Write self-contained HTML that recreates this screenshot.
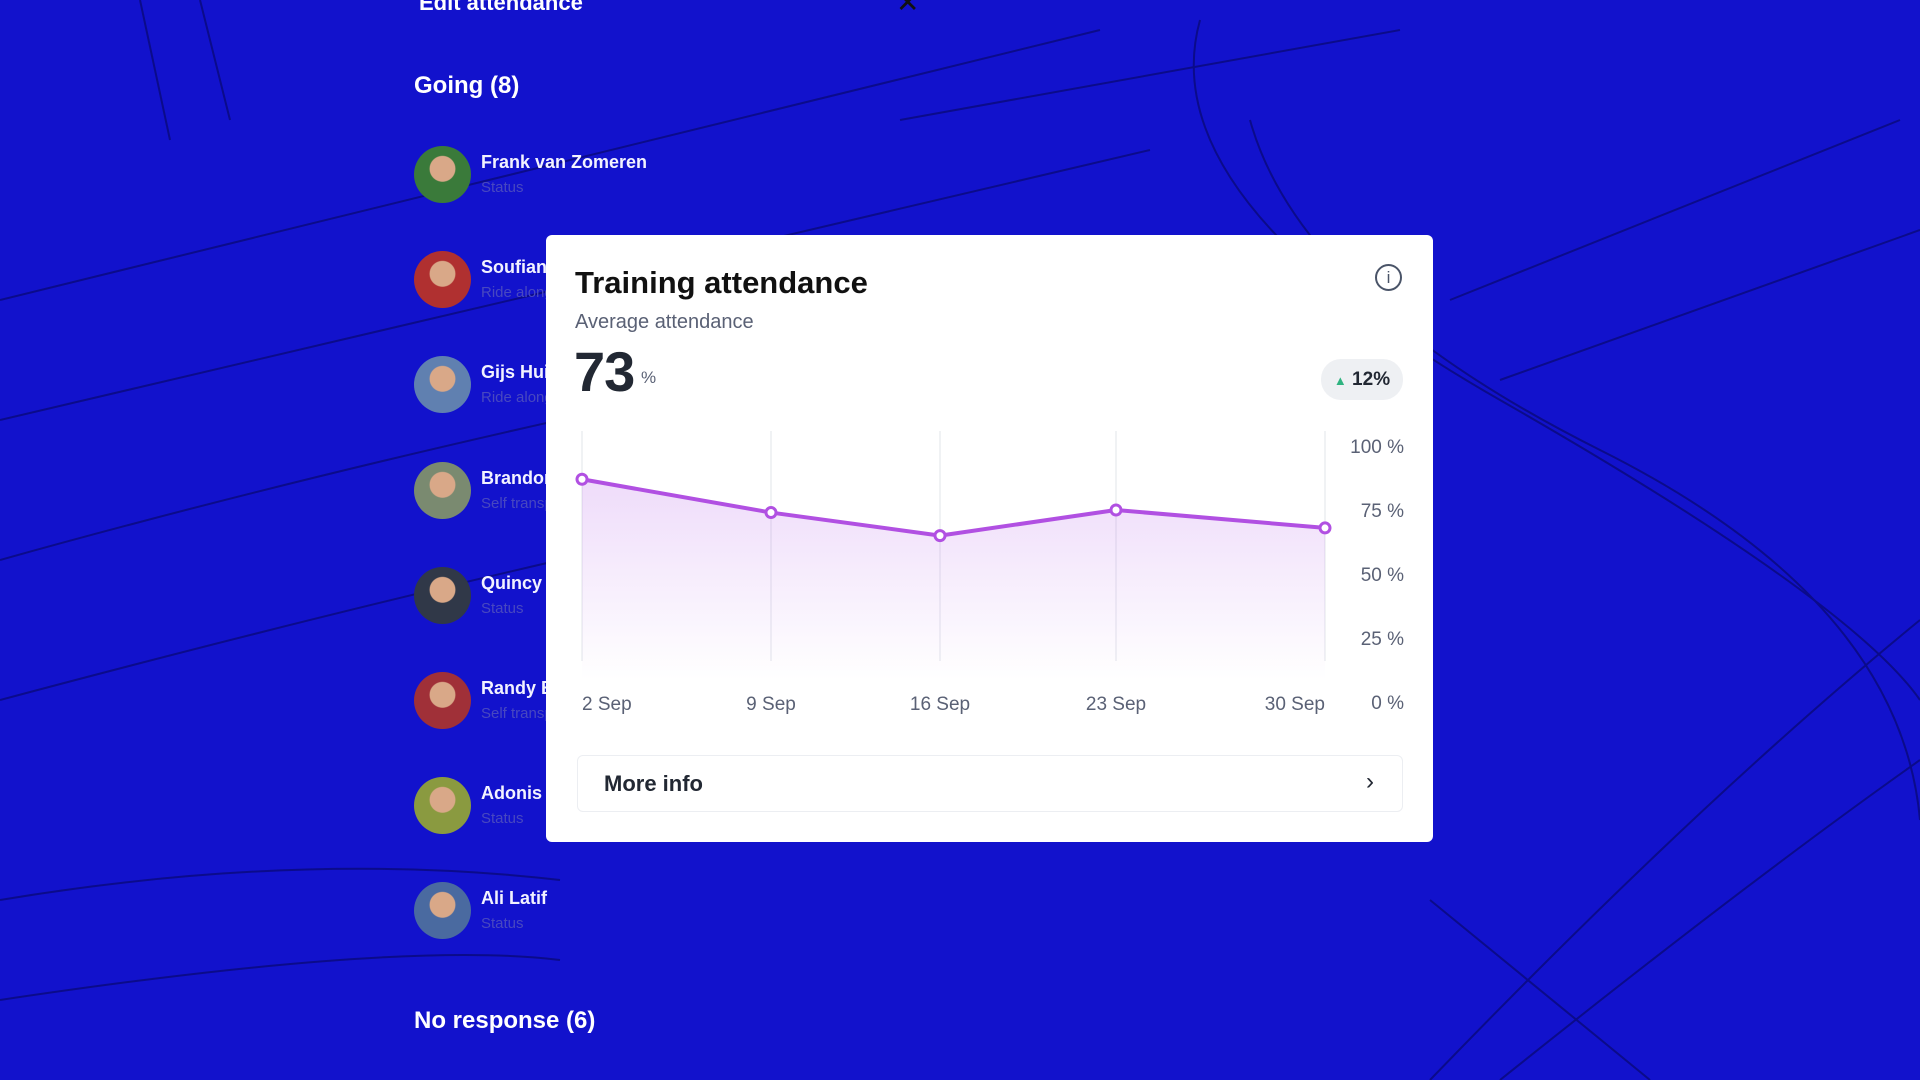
<!DOCTYPE html>
<html><head><meta charset="utf-8"><style>
*{margin:0;padding:0;box-sizing:border-box}
body{width:1920px;height:1080px;overflow:hidden;background:#1212cc;font-family:"Liberation Sans",sans-serif;position:relative}
.abs{position:absolute}
.wt{color:#fff;font-weight:bold}
.name{position:absolute;left:481px;color:#f2f2ff;font-size:18px;font-weight:bold;white-space:nowrap}
.status{position:absolute;left:481px;color:#4848c0;font-size:15px;white-space:nowrap}
.av{position:absolute;left:414px;width:57px;height:57px;border-radius:50%}
</style></head><body>
<svg class="abs" style="left:0;top:0" width="1920" height="1080">
<g stroke="#0a0a7a" stroke-width="2" fill="none" opacity="0.8">
<path d="M0 300 Q400 200 1100 30"/><path d="M0 420 Q500 300 1150 150"/><path d="M0 560 Q500 420 1150 300"/>
<path d="M0 700 Q300 620 560 560"/><path d="M1200 20 Q1150 200 1500 400 T1920 700"/>
<path d="M1250 120 Q1300 300 1600 450 T1920 820"/><path d="M1430 1080 Q1700 800 1920 620"/>
<path d="M1500 1080 Q1750 880 1920 760"/><path d="M1450 300 L1900 120"/><path d="M1500 380 L1920 230"/>
<path d="M140 0 L170 140"/><path d="M200 0 L230 120"/><path d="M0 900 Q300 850 560 880"/>
<path d="M0 1000 Q400 940 560 960"/><path d="M1430 900 L1650 1080"/><path d="M900 120 L1400 30"/>
</g></svg>
<div class="abs wt" style="left:419px;top:-10px;font-size:22px">Edit attendance</div>
<div class="abs" style="left:896px;top:-14px;font-size:28px;color:#111">✕</div>
<div class="abs wt" style="left:414px;top:72px;font-size:24px">Going (8)</div>
<div class="abs wt" style="left:414px;top:1007px;font-size:24px">No response (6)</div>
<div id="list"></div>

<div class="abs" style="left:546px;top:235px;width:887px;height:607px;background:#fff;border-radius:6px">
 <div class="abs" style="left:29px;top:30px;font-size:31px;font-weight:bold;color:#111">Training attendance</div>
 <div class="abs" style="left:29px;top:76px;font-size:20px;color:#5a6175">Average attendance</div>
 <div class="abs" style="left:28px;top:104px;font-size:56px;font-weight:bold;color:#222833;letter-spacing:-1px">73</div>
 <div class="abs" style="left:95px;top:133px;font-size:17px;color:#5a6175">%</div>
 <div class="abs" style="left:829px;top:29px;width:27px;height:27px;border:2px solid #4a5468;border-radius:50%;color:#4a5468;font-size:17px;text-align:center;line-height:23px">i</div>
 <div class="abs" style="left:775px;top:124px;width:82px;height:41px;background:#eef0f3;border-radius:20px;font-size:19px;font-weight:bold;color:#222833;line-height:41px;text-align:center"><span style="color:#2fb380;font-size:13px">▲</span> 12%</div>
 <div class="abs" style="left:31px;top:520px;width:826px;height:57px;border:1px solid #eceef2;border-radius:6px">
  <div class="abs" style="left:26px;top:15px;font-size:22px;font-weight:bold;color:#222833">More info</div>
  <div class="abs" style="left:788px;top:12px;font-size:24px;color:#222833">›</div>
 </div>
</div>
<svg id="chart" class="abs" style="left:0;top:0" width="1920" height="1080">
<defs><linearGradient id="g" x1="0" y1="0" x2="0" y2="1"><stop offset="0" stop-color="#b45ee8" stop-opacity="0.22"/><stop offset="1" stop-color="#b45ee8" stop-opacity="0"/></linearGradient></defs>
</svg>
<script>
const categories=["2 Sep","9 Sep","16 Sep","23 Sep","30 Sep"];
const values=[87,74,65,75,68];
const yTicks=[0,25,50,75,100];
const xPos=[582,771,940,1116,1325];
const svg=document.getElementById('chart');const NS="http://www.w3.org/2000/svg";
const y=v=>702-v*2.56;
function mk(t,a){const e=document.createElementNS(NS,t);for(const k in a)e.setAttribute(k,a[k]);svg.appendChild(e);return e;}
categories.forEach((c,i)=>{const l=mk('line',{x1:xPos[i],x2:xPos[i],y1:431,y2:661,stroke:'#ebedf1','stroke-width':1.5});


const anchor=i==0?'start':(i==categories.length-1?'end':'middle');
const t=mk('text',{x:xPos[i],y:710,'text-anchor':anchor,'font-size':19,fill:'#5a6175','font-family':'Liberation Sans'});t.textContent=c;

});
yTicks.forEach(v=>{const t=mk('text',{x:1404,y:y(v)+7,'text-anchor':'end','font-size':19,fill:'#5a6175','font-family':'Liberation Sans'});t.textContent=v+' %';

});
const pts=values.map((v,i)=>[xPos[i],y(v)]);
const area=mk('path',{d:'M'+pts.map(p=>p.join(' ')).join(' L')+` L${xPos[4]} 680 L${xPos[0]} 680 Z`,fill:'url(#g)'});


const line=mk('polyline',{points:pts.map(p=>p.join(',')).join(' '),fill:'none',stroke:'#b150e2','stroke-width':4,'stroke-linejoin':'round'});


pts.forEach(p=>{const c=mk('circle',{cx:p[0],cy:p[1],r:5,fill:'#fff',stroke:'#b150e2','stroke-width':3});

});
const people=[["Frank van Zomeren","Status","#3a7a3a"],["Soufiane Ahmed","Ride along","#b03030"],["Gijs Huisman","Ride along","#6080b0"],["Brandon Smit","Self transport","#7a8a70"],["Quincy Jansen","Status","#303848"],["Randy Bakker","Self transport","#a03038"],["Adonis Pérez","Status","#8a9a40"],["Ali Latif","Status","#4a6aa0"]];
const list=document.getElementById('list');
people.forEach((p,i)=>{const top=174+i*105.2;
const a=document.createElement('div');a.className='av';a.style.top=(top-28)+'px';a.style.background=`radial-gradient(circle at 50% 40%,#d9a888 0 28%,${p[2]} 30%)`;

list.appendChild(a);
const n=document.createElement('div');n.className='name';n.style.top=(top-22)+'px';n.textContent=p[0];

list.appendChild(n);
const s=document.createElement('div');s.className='status';s.style.top=(top+5)+'px';s.textContent=p[1];

list.appendChild(s);});
</script>
</body></html>
